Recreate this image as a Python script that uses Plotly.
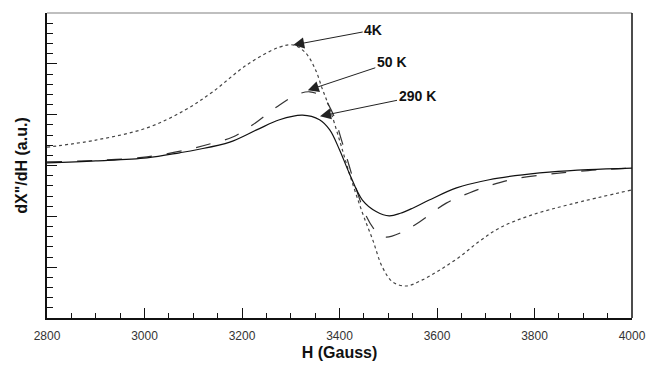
import plotly.graph_objects as go

# ---- data (H in Gauss, signal in arbitrary units) ----
h_4k = [2800, 2900, 3005, 3083, 3140, 3210, 3277, 3305, 3330, 3350, 3365, 3380, 3400,
        3420, 3447, 3468, 3488, 3509, 3537, 3570, 3605, 3646, 3687, 3728, 3789, 3875, 4000]
y_4k = [3.36, 3.50, 3.74, 4.09, 4.45, 4.98, 5.33, 5.37, 5.22, 4.90, 4.50, 4.12, 3.50,
        2.85, 2.07, 1.54, 1.00, 0.71, 0.63, 0.75, 0.94, 1.20, 1.51, 1.77, 2.01, 2.24, 2.52]

h_50k = [2800, 2900, 3005, 3087, 3140, 3181, 3222, 3271, 3312, 3339, 3365, 3386, 3406,
         3435, 3455, 3470, 3482, 3496, 3529, 3564, 3619, 3666, 3713, 3760, 3830, 3910, 4000]
y_50k = [3.07, 3.10, 3.17, 3.31, 3.44, 3.56, 3.80, 4.15, 4.39, 4.45, 4.35, 4.03, 3.44,
         2.52, 2.00, 1.76, 1.64, 1.59, 1.69, 1.89, 2.26, 2.46, 2.62, 2.74, 2.83, 2.90, 2.95]

h_290k = [2800, 2900, 3005, 3072, 3107, 3175, 3230, 3277, 3324, 3359, 3380, 3400, 3420,
          3447, 3476, 3502, 3525, 3550, 3584, 3640, 3707, 3760, 3830, 3910, 4000]
y_290k = [3.05, 3.09, 3.15, 3.25, 3.31, 3.46, 3.70, 3.90, 3.99, 3.90, 3.70, 3.31, 2.85,
          2.32, 2.09, 2.01, 2.06, 2.16, 2.32, 2.56, 2.72, 2.80, 2.87, 2.92, 2.95]

x_ticks = [2800, 3000, 3200, 3400, 3600, 3800, 4000]
x_tick_labels = ["2800", "3000", "3200", "3400", "3600", "3800", "4000"]

labels = ["4K", "50 K", "290 K"]
label_pts_h = [3305, 3335, 3360]
label_pts_y = [5.37, 4.48, 3.97]

fig = go.Figure()
fig.add_trace(go.Scatter(x=h_4k, y=y_4k, mode="lines", name="4K",
                         line=dict(color="#444", width=1.2, dash="dot", shape="spline", smoothing=1.0)))
fig.add_trace(go.Scatter(x=h_50k, y=y_50k, mode="lines", name="50 K",
                         line=dict(color="#333", width=1.2, dash="longdash", shape="spline", smoothing=1.0)))
fig.add_trace(go.Scatter(x=h_290k, y=y_290k, mode="lines", name="290 K",
                         line=dict(color="#111", width=1.2, shape="spline", smoothing=1.0)))

# annotation text offsets (pixels from arrow tip)
offs = [(80, -15), (84, -28), (97, -20)]
for lab, hx, hy, (ax, ay) in zip(labels, label_pts_h, label_pts_y, offs):
    fig.add_annotation(x=hx, y=hy, xref="x", yref="y", text="<b>%s</b>" % lab,
                       showarrow=True, arrowhead=2, arrowsize=2.2, arrowwidth=1,
                       arrowcolor="#222", ax=ax, ay=ay,
                       font=dict(family="Liberation Sans, Arial", size=14, color="#111"))

# frame: top gray line and right black line
fig.add_shape(type="line", xref="paper", yref="paper", x0=0, x1=1, y0=1, y1=1,
              line=dict(color="#aaaaaa", width=1.5))
fig.add_shape(type="line", xref="paper", yref="paper", x0=1, x1=1, y0=0, y1=1,
              line=dict(color="#111", width=1.5))

fig.update_layout(
    width=648, height=375,
    margin=dict(l=47, r=16, t=13, b=57),
    paper_bgcolor="white", plot_bgcolor="white",
    showlegend=False,
    font=dict(family="Liberation Sans, Arial", color="#222"),
    xaxis=dict(range=[2800, 4000], tickvals=x_ticks, ticktext=x_tick_labels,
               automargin=False,
               ticks="inside", ticklen=10, tickcolor="#111", tickwidth=1,
               ticklabelstandoff=6,
               minor=dict(dtick=50, ticks="inside", ticklen=5, tickcolor="#111"),
               showline=True, linecolor="#111", linewidth=1.5, showgrid=False, zeroline=False,
               tickfont=dict(size=12, color="#333"),
               title=dict(text="<b>H (Gauss)</b>", font=dict(size=16, color="#111"), standoff=5)),
    yaxis=dict(range=[0, 6], dtick=1, showticklabels=False, automargin=False,
               ticks="inside", ticklen=10, tickcolor="#111", tickwidth=1,
               minor=dict(dtick=0.2, ticks="inside", ticklen=6, tickcolor="#111"),
               showline=True, linecolor="#111", linewidth=1.5, showgrid=False, zeroline=False,
               title=dict(text='<b>dX"/dH (a.u.)</b>', font=dict(size=16, color="#111"), standoff=14)),
)

fig.write_html("out.html", config={"displayModeBar": False},
               post_script="document.body.style.margin='0';document.body.style.overflow='hidden';")
